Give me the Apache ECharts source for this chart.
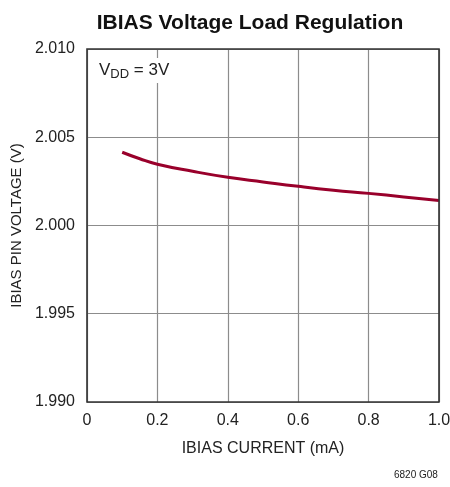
<!DOCTYPE html>
<html>
<head>
<meta charset="utf-8">
<script src="https://cdn.jsdelivr.net/npm/echarts@6/dist/echarts.min.js"></script>
<style>
  html, body { margin: 0; padding: 0; background: #fff; }
  #chart1 { width: 450px; height: 487px; }
</style>
</head>
<body>
<div id="chart1"></div>
<script>
// IBIAS current (mA) vs pin voltage (V)
var current = [0.1, 0.15, 0.2, 0.3, 0.4, 0.5, 0.6, 0.7, 0.8, 0.9, 1.0];
var voltage = [2.00415, 2.00378, 2.00347, 2.00307, 2.00273, 2.00247, 2.00222, 2.00200, 2.00182, 2.00162, 2.00142];
var xTicks = [0, 0.2, 0.4, 0.6, 0.8, 1.0];
var yTicks = [1.990, 1.995, 2.000, 2.005, 2.010];

var font = '"Liberation Sans Narrow", "Liberation Sans", sans-serif';
var chart = echarts.init(document.getElementById('chart1'));

var option = {
    animation: false,
    title: {
        text: 'IBIAS Voltage Load Regulation',
        left: 245, top: 8, textAlign: 'center',
        textStyle: { fontFamily: font, fontSize: 21, fontWeight: 'bold', color: '#111' }
    },
    grid: { left: 87, right: 11, top: 49, bottom: 85, outerBoundsMode: 'none' },
    xAxis: {
        type: 'value', min: 0, max: 1, interval: 0.2,
        name: 'IBIAS CURRENT (mA)', nameLocation: 'middle', nameGap: 39,
        nameTextStyle: { fontFamily: font, fontSize: 16, color: '#222' },
        axisLine: { show: false },
        axisTick: { show: false },
        splitLine: { show: true, lineStyle: { color: '#8c8c8c', width: 1.2 } },
        axisLabel: {
            fontFamily: font, fontSize: 16, color: '#222', margin: 11,
            formatter: function (v) {
                var i = xTicks.indexOf(Math.round(v * 10) / 10);
                return i === 0 ? '0' : (i > 0 ? xTicks[i].toFixed(1) : '');
            }
        }
    },
    yAxis: {
        type: 'value', min: 1.990, max: 2.010, interval: 0.005,
        name: 'IBIAS PIN VOLTAGE (V)', nameLocation: 'middle', nameGap: 58,
        nameTextStyle: { fontFamily: font, fontSize: 15, color: '#222' },
        axisLine: { show: false },
        axisTick: { show: false },
        splitLine: { show: true, lineStyle: { color: '#8c8c8c', width: 1.2 } },
        axisLabel: {
            fontFamily: font, fontSize: 16, color: '#222', margin: 12,
            formatter: function (v) { return v.toFixed(3); }
        }
    },
    graphic: [
        {
            type: 'rect', z: 100, silent: true,
            shape: { x: 87, y: 49, width: 352, height: 353 },
            style: { fill: 'none', stroke: '#333', lineWidth: 1.6 }
        },
        {
            type: 'text', z: 100, left: 97, top: 58,
            style: {
                text: 'V{sub|DD} = 3V',
                fontFamily: font, fontSize: 17, fill: '#222',
                backgroundColor: '#fff', padding: [2, 3, 2, 2],
                rich: { sub: { fontFamily: font, fontSize: 13, fill: '#222', padding: [8, 0, 0, 0] } }
            }
        },
        {
            type: 'text', left: 394, top: 470,
            style: { text: '6820 G08', fontFamily: font, fontSize: 10, fill: '#222' }
        }
    ],
    series: [
        {
            name: 'VDD = 3V',
            type: 'line',
            smooth: true,
            showSymbol: false,
            lineStyle: { width: 3, color: '#99002b' },
            data: current.map(function (c, i) { return [c, voltage[i]]; })
        }
    ]
};
chart.setOption(option);
</script>
</body>
</html>
